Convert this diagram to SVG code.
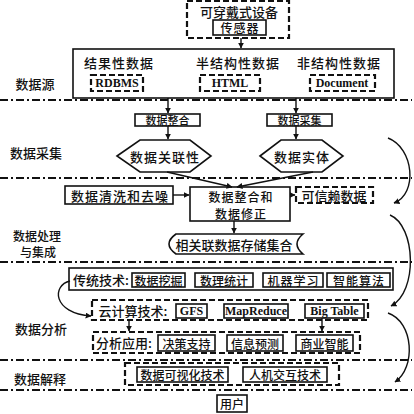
<svg xmlns="http://www.w3.org/2000/svg" width="414" height="414" viewBox="0 0 414 414">
<defs>
<style>
text{font-family:"Noto Sans CJK SC","Liberation Serif",sans-serif;font-weight:500;fill:#111;dominant-baseline:central;text-anchor:middle}
.t13{font-size:13px}
.sp{letter-spacing:1px}
.t12{font-size:12px}
.t11{font-size:11px}
.lat{font-family:"Liberation Serif","Noto Sans CJK SC",serif;font-weight:bold;font-size:12px}
.sb{fill:#fff;stroke:#111;stroke-width:1.6}
.db{fill:#fff;stroke:#111;stroke-width:2.2;stroke-dasharray:6 3}
.sep{stroke:#111;stroke-width:2;stroke-dasharray:8 3 2 3;fill:none}
.ln{stroke:#111;stroke-width:1.4;fill:none;marker-end:url(#ah)}
</style>
<marker id="ah" viewBox="0 0 10 10" refX="9" refY="5" markerWidth="6" markerHeight="6" orient="auto-start-reverse" markerUnits="userSpaceOnUse">
<path d="M0,0 L10,5 L0,10 Z" fill="#111"/>
</marker>
</defs>
<rect width="414" height="414" fill="#fff"/>

<g id="separators">
<line class="sep" x1="0" y1="100" x2="412" y2="100"/>
<line class="sep" x1="0" y1="178" x2="412" y2="178"/>
<line class="sep" x1="0" y1="262" x2="412" y2="262"/>
<line class="sep" x1="0" y1="360" x2="412" y2="360"/>
<line class="sep" x1="0" y1="390" x2="412" y2="390"/>
</g>

<g id="labels">
<text class="t13" x="35" y="83">数据源</text>
<text class="t13" x="36" y="152">数据采集</text>
<text class="t12" x="37" y="235">数据处理</text>
<text class="t12" x="38" y="251">与集成</text>
<text class="t13" x="41" y="328">数据分析</text>
<text class="t13" x="40" y="378">数据解释</text>
</g>

<g id="wearable">
<rect class="db" x="187" y="1" width="102" height="37"/>
<text class="t13" x="239" y="11">可穿戴式设备</text>
<rect class="sb" x="213" y="20" width="53" height="15"/>
<text class="t12 sp" x="240" y="27.5">传感器</text>
</g>

<g id="datasource">
<rect class="sb" x="73" y="49" width="321" height="49"/>
<text class="t13 sp" x="119" y="62">结果性数据</text>
<text class="t13 sp" x="238" y="62">半结构性数据</text>
<text class="t13 sp" x="339" y="62">非结构性数据</text>
<rect class="db" x="91" y="75" width="52" height="16"/>
<text class="lat" x="117" y="83">RDBMS</text>
<rect class="db" x="200" y="75" width="60" height="16"/>
<text class="lat" x="230" y="83">HTML</text>
<rect class="db" x="310" y="75" width="65" height="16"/>
<text class="lat" x="342" y="83">Document</text>
</g>

<g id="integrate">
<rect class="sb" x="135" y="114" width="65" height="12"/>
<text class="t11" x="167.5" y="120">数据整合</text>
</g>
<g id="collect">
<rect class="sb" x="267" y="114" width="65" height="12"/>
<text class="t11" x="299.5" y="120">数据采集</text>
</g>

<g id="hex1">
<polygon class="sb" points="117,156 140,140 190,140 211,156 190,172 140,172"/>
<text class="t13 sp" x="165" y="156">数据关联性</text>
</g>
<g id="hex2">
<polygon class="sb" points="260,156 281,140 322,140 343,156 322,172 281,172"/>
<text class="t13 sp" x="302" y="156">数据实体</text>
</g>

<g id="clean">
<rect class="sb" x="65" y="186" width="108" height="18"/>
<text class="t13 sp" x="120" y="195">数据清洗和去噪</text>
</g>
<g id="correct">
<rect class="sb" x="190" y="187" width="100" height="34"/>
<text class="t12 sp" x="241" y="196">数据整合和</text>
<text class="t12 sp" x="241" y="213">数据修正</text>
</g>
<g id="trusted">
<rect class="db" x="296" y="187" width="77" height="16"/>
<text class="t13" x="334" y="195">可信赖数据</text>
</g>
<g id="store">
<path class="sb" d="M176,234 H303 Q291,244 303,254 H176 Q162,244 176,234 Z"/>
<text class="t13" x="234" y="244">相关联数据存储集合</text>
</g>

<g id="traditional">
<rect class="sb" x="69" y="268" width="324" height="22"/>
<text class="t13" x="101" y="279">传统技术:</text>
<rect class="sb" x="132" y="273" width="53" height="14"/>
<text class="t12" x="158.5" y="280">数据挖掘</text>
<rect class="sb" x="195" y="273" width="58" height="14"/>
<text class="t12" x="224" y="280">数理统计</text>
<rect class="sb" x="263" y="273" width="60" height="14"/>
<text class="t12 sp" x="293.5" y="280">机器学习</text>
<rect class="sb" x="327" y="273" width="63" height="14"/>
<text class="t12 sp" x="359" y="280">智能算法</text>
</g>

<g id="cloud">
<rect class="db" x="92" y="300" width="276" height="20"/>
<text class="t13" x="133" y="310">云计算技术:</text>
<rect class="sb" x="176" y="304" width="31" height="14"/>
<text class="lat" x="191.5" y="311">GFS</text>
<rect class="sb" x="224" y="304" width="64" height="14"/>
<text class="lat" x="256" y="311">MapReduce</text>
<rect class="sb" x="305" y="304" width="59" height="14"/>
<text class="lat" x="334.5" y="311">Big Table</text>
</g>

<g id="apps">
<rect class="db" x="93" y="332" width="267" height="21"/>
<text class="t13" x="124" y="342">分析应用:</text>
<rect class="sb" x="158" y="335" width="57" height="16"/>
<text class="t12" x="186.5" y="343">决策支持</text>
<rect class="sb" x="227" y="335" width="56" height="16"/>
<text class="t12" x="255" y="343">信息预测</text>
<rect class="sb" x="296" y="335" width="57" height="16"/>
<text class="t12" x="324.5" y="343">商业智能</text>
</g>

<g id="interpret">
<rect class="db" x="125" y="363" width="214" height="22"/>
<rect class="sb" x="137" y="367" width="91" height="15"/>
<text class="t12" x="182.5" y="374.5">数据可视化技术</text>
<rect class="sb" x="243" y="367" width="84" height="15"/>
<text class="t12" x="285" y="374.5">人机交互技术</text>
</g>

<g id="user">
<rect class="sb" x="217" y="395" width="30" height="17"/>
<text class="t12" x="232" y="403.5">用户</text>
</g>

<g id="connectors">
<line class="ln" x1="241" y1="38" x2="241" y2="48"/>
<line class="ln" x1="168" y1="98" x2="168" y2="113"/>
<line class="ln" x1="296" y1="98" x2="296" y2="113"/>
<line class="ln" x1="168" y1="126" x2="168" y2="139"/>
<line class="ln" x1="296" y1="126" x2="296" y2="139"/>
<line class="ln" x1="167" y1="172" x2="232" y2="187"/>
<line class="ln" x1="313" y1="172" x2="237" y2="187"/>
<line class="ln" x1="173" y1="195" x2="189" y2="195"/>
<line class="ln" x1="290" y1="195" x2="295" y2="195"/>
<line class="ln" x1="234" y1="221" x2="234" y2="233"/>
<line class="ln" x1="129" y1="320" x2="129" y2="331"/>
<line class="ln" x1="322" y1="318" x2="322" y2="331"/>
<path class="ln" d="M70,281 C52,285 52,313 91,316"/>
<path class="ln" d="M388,138 C414,148 418,194 394,203"/>
<path class="ln" d="M390,215 C416,226 418,292 391,306"/>
<path class="ln" d="M388,313 C414,322 416,368 395,382"/>
</g>
</svg>
